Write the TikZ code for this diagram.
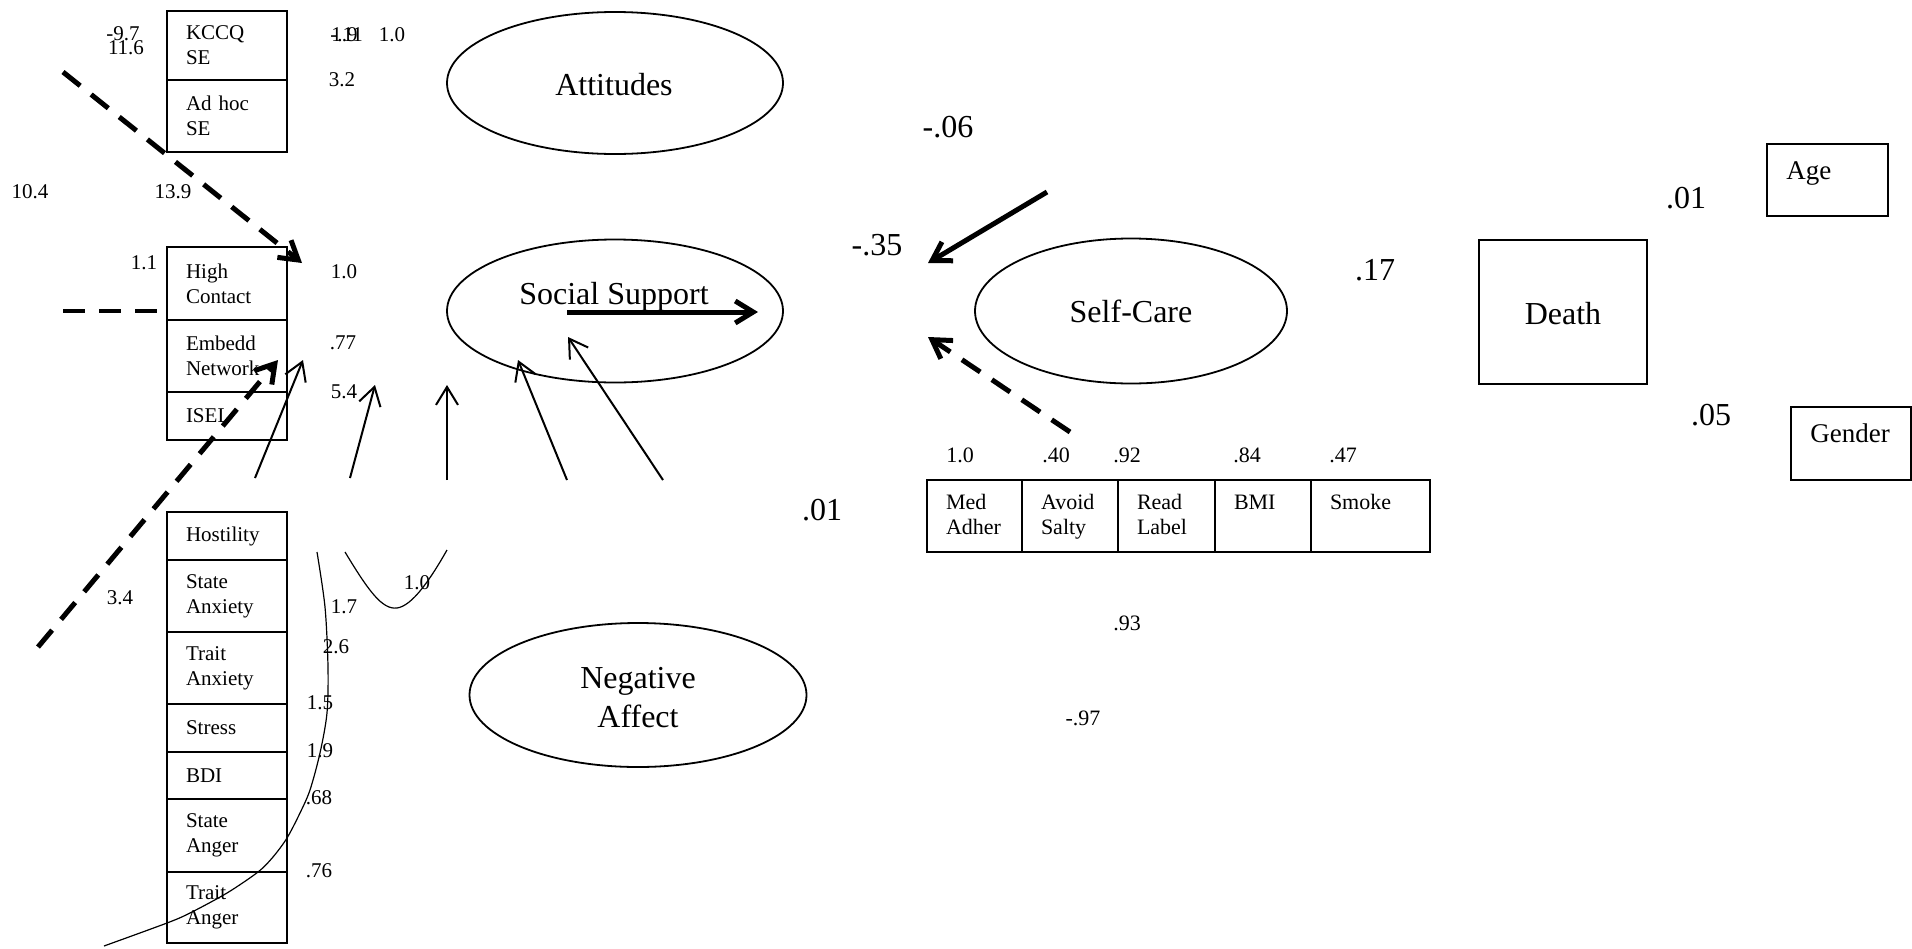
\documentclass[tikz,border=0pt]{standalone}
\usepackage{fontspec}
\setmainfont{Liberation Serif}
\usetikzlibrary{arrows.meta,shapes.geometric}
\newcommand\lastdepth{\rule[-2.5pt]{0pt}{2.5pt}}
\begin{document}
\begin{tikzpicture}[x=0.5pt,y=-0.5pt,
  num/.style={font=\fontsize{10.5}{12.5}\selectfont, inner sep=0pt},
  cnum/.style={font=\fontsize{11}{13}\selectfont, inner sep=0pt},
  bignum/.style={font=\fontsize{16}{19}\selectfont, inner sep=0pt},
  bigtxt/.style={font=\fontsize{16}{19.5}\selectfont, inner sep=0pt},
  ind/.style={draw, line width=1.1pt, inner xsep=9.5pt, inner ysep=0pt, align=left,
     font=\fontsize{10.5}{12.5}\selectfont, minimum width=60pt, text width=41pt},
  sci/.style={draw, line width=1.1pt, inner xsep=9.5pt, inner ysep=0pt, align=left,
     font=\fontsize{11}{12.5}\selectfont, minimum height=36pt},
  ell/.style={draw, ellipse, line width=0.9pt, inner sep=0pt, align=center,
     font=\fontsize{16}{19.5}\selectfont},
  plainbox/.style={draw, line width=1.1pt, inner sep=0pt},
  arr/.style={-{Straight Barb[length=9pt,width=11pt]}},
  thin/.style={line width=1pt},
  thick/.style={line width=2.5pt},
  dsh/.style={dash pattern=on 11pt off 7pt},
  curve/.style={line width=0.6pt}
]
\useasboundingbox (0,0) rectangle (1912,948);

% ---------- left indicator boxes ----------
\node[ind, minimum height=34.5pt] (kccq) at (227,45.5) {KCCQ\\SE};
\node[ind, minimum height=36pt] (adhoc) at (227,116) {Ad hoc\\SE};
\node[ind, minimum height=36.5pt] (high) at (227,283.5) {High\\Contact};
\node[ind, minimum height=36pt] (embedd) at (227,356) {Embedd\\Network};
\node[ind, minimum height=24pt] (isel) at (227,416) {ISEL};
\node[ind, minimum height=24pt] (host) at (227,536) {Hostility};
\node[ind, minimum height=36pt] (stanx) at (227,596) {State\\Anxiety};
\node[ind, minimum height=36pt] (tranx) at (227,668) {Trait\\Anxiety};
\node[ind, minimum height=24pt] (stress) at (227,728) {Stress};
\node[ind, minimum height=23.5pt] (bdi) at (227,775.5) {BDI};
\node[ind, minimum height=36.5pt] (stang) at (227,835.5) {State\\Anger};
\node[ind, minimum height=35.5pt] (trang) at (227,907.5) {Trait\\Anger};

% ---------- latent ellipses ----------
\node[ell, minimum width=168pt, minimum height=71pt] (att) at (615,83) {};
\node[bigtxt] (atttext) at (614,85) {Attitudes};
\node[ell, minimum width=168pt, minimum height=71.5pt] (ss) at (615,311) {};
\node[bigtxt] (sstext) at (614,297) {Social Support};
\node[ell, minimum width=168.5pt, minimum height=72pt] (na) at (638,695) {};
\node[bigtxt, align=center] (natext) at (638,698) {Negative\\Affect};
\node[ell, minimum width=156pt, minimum height=72.5pt] (sc) at (1131,311) {Self-Care};

% ---------- self-care indicators ----------
\node[sci, minimum width=47.5pt, text width=28.5pt] (med) at (974.5,516) {\strut Med\\Adher\lastdepth};
\node[sci, minimum width=48pt, text width=29pt] (avoid) at (1070,516) {\strut Avoid\\Salty\lastdepth};
\node[sci, minimum width=48.5pt, text width=29.5pt] (read) at (1166.5,516) {\strut Read\\Label\lastdepth};
\node[sci, minimum width=48pt, text width=29pt] (bmi) at (1263,516) {\strut BMI\\\lastdepth};
\node[sci, minimum width=59.5pt, text width=40.5pt] (smoke) at (1370.5,516) {\strut Smoke\\\lastdepth};

% ---------- outcome and covariates ----------
\node[plainbox, minimum width=84pt, minimum height=72pt] (death) at (1563,312) {};
\node[bigtxt] (deathtext) at (1563,314) {Death};
\node[plainbox, minimum width=60.5pt, minimum height=36pt] (age) at (1827.5,180) {};
\node[anchor=west, inner sep=0pt, font=\fontsize{13.5}{16}\selectfont] (agetxt) at (1786,173) {Age};
\node[plainbox, minimum width=60pt, minimum height=36.5pt] (gender) at (1851,443.5) {};
\node[anchor=west, inner sep=0pt, font=\fontsize{13.5}{16}\selectfont] (gendertxt) at (1810,433) {Gender};

% ---------- coordinates for free connector ends ----------
\coordinate (d1s) at (63,72);   \coordinate (d1e) at (302,263);
\coordinate (d2s) at (63,311);  \coordinate (d2e) at (162,311);
\coordinate (d3s) at (38,647);  \coordinate (d3e) at (278,360);
\coordinate (a1s) at (255,478); \coordinate (a1e) at (303,360);
\coordinate (a2s) at (350,478); \coordinate (a2e) at (375,385);
\coordinate (a3s) at (447,480); \coordinate (a3e) at (447,385);
\coordinate (a4s) at (567,480); \coordinate (a4e) at (518,360);
\coordinate (a5s) at (663,480); \coordinate (a5e) at (568,337);
\coordinate (t1s) at (567,312); \coordinate (t1e) at (758,312);
\coordinate (t2s) at (1047,192);\coordinate (t2e) at (928,263);
\coordinate (t3s) at (1070,432);\coordinate (t3e) at (928,337);

% ---------- connectors ----------
\draw[thick, dsh, arr] (d1s) -- (d1e);
\draw[thick, dsh, line width=2.2pt] (d2s) -- (d2e);
\draw[thick, dsh, arr] (d3s) -- (d3e);
\draw[thin, arr] (a1s) -- (a1e);
\draw[thin, arr] (a2s) -- (a2e);
\draw[thin, arr] (a3s) -- (a3e);
\draw[thin, arr] (a4s) -- (a4e);
\draw[thin, arr] (a5s) -- (a5e);
\draw[thick, arr] (t1s) -- (t1e);
\draw[thick, arr] (t2s) -- (t2e);
\draw[thick, dsh, arr] (t3s) -- (t3e);

% ---------- free curves ----------
\draw[curve] plot[smooth, tension=0.5] coordinates {(317,552) (325,607) (328,667) (327,713) (320,753) (310,790) (300,813) (287,838) (273,857) (258,872) (227,893) (190,913) (167,923) (104,946)};
\draw[curve] (345,552) .. controls (368,590) and (382,610) .. (397,608) .. controls (412,606) and (430,580) .. (447,550);

% ---------- small numbers (left) ----------
\node[num] (n1) at (123,34) {-9.7};
\node[num] (n2) at (126,48) {11.6};
\node[num, anchor=west] (n3) at (330,35) {-.11};
\node[num, anchor=west] (n4) at (331,35) {1.9};
\node[num] (n5) at (392,35) {1.0};
\node[num] (n6) at (342,80) {3.2};
\node[num] (n7) at (30,192) {10.4};
\node[num] (n8) at (173,192) {13.9};
\node[num] (n9) at (144,263) {1.1};
\node[num] (n10) at (344,272) {1.0};
\node[num] (n11) at (343,343) {.77};
\node[num] (n12) at (344,392) {5.4};
\node[num] (n13) at (120,598) {3.4};
\node[num] (n14) at (344,607) {1.7};
\node[num] (n15) at (336,647) {2.6};
\node[num] (n16) at (320,703) {1.5};
\node[num] (n17) at (320,751) {1.9};
\node[num] (n18) at (319,798) {.68};
\node[num] (n19) at (319,871) {.76};
\node[num] (n20) at (417,583) {1.0};

% ---------- self-care numbers ----------
\node[cnum] (m1) at (960,455) {1.0};
\node[cnum] (m2) at (1056,455) {.40};
\node[cnum] (m3) at (1127,455) {.92};
\node[cnum] (m4) at (1247,455) {.84};
\node[cnum] (m5) at (1343,455) {.47};
\node[cnum] (m6) at (1127,623) {.93};
\node[cnum] (m7) at (1083,718) {-.97};

% ---------- large numbers ----------
\node[bignum] (b1) at (948,127) {-.06};
\node[bignum] (b2) at (877,245) {-.35};
\node[bignum] (b3) at (822,510) {.01};
\node[bignum] (b4) at (1375,270) {.17};
\node[bignum] (b5) at (1686,198) {.01};
\node[bignum] (b6) at (1711,415) {.05};
\end{tikzpicture}
\end{document}
